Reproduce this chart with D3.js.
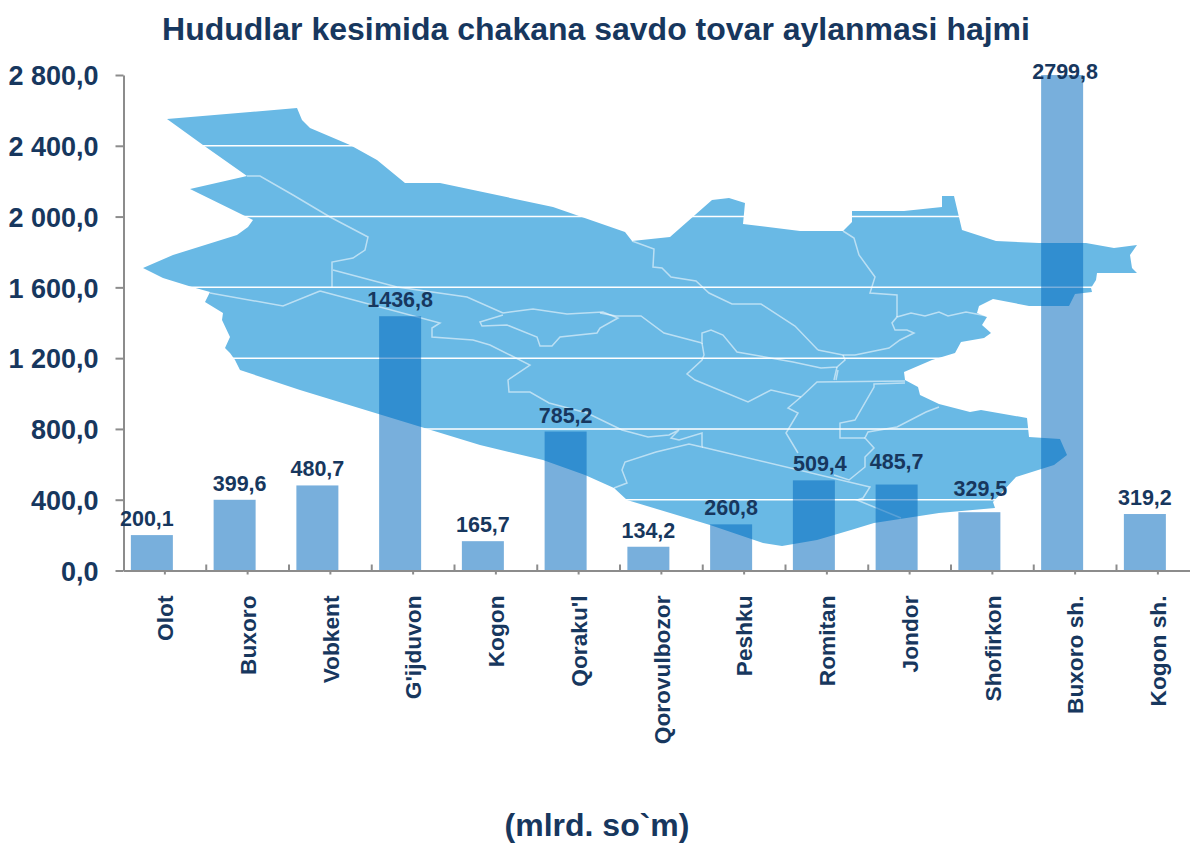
<!DOCTYPE html>
<html>
<head>
<meta charset="utf-8">
<title>Hududlar kesimida chakana savdo tovar aylanmasi hajmi</title>
<script src="https://cdn.jsdelivr.net/npm/d3@7"></script>
<style>
  html, body { margin: 0; padding: 0; background: #fff; }
  svg { display: block; }
  text { font-family: "Liberation Sans", Arial, sans-serif; font-weight: bold; fill: #17375e; }
</style>
</head>
<body>
<svg width="1190" height="843"></svg>
<script>
// Data
const categories = ["Olot", "Buxoro", "Vobkent", "G'ijduvon", "Kogon", "Qoraku'l", "Qorovulbozor",
    "Peshku", "Romitan", "Jondor", "Shofirkon", "Buxoro sh.", "Kogon sh."];
const values = [200.1, 399.6, 480.7, 1436.8, 165.7, 785.2, 134.2, 260.8, 509.4, 485.7, 329.5, 2799.8, 319.2];
const valueLabels = ["200,1", "399,6", "480,7", "1436,8", "165,7", "785,2", "134,2", "260,8", "509,4", "485,7", "329,5", "2799,8", "319,2"];
const yTicks = [0, 400, 800, 1200, 1600, 2000, 2400, 2800];
const yTickLabels = ["0,0", "400,0", "800,0", "1 200,0", "1 600,0", "2 000,0", "2 400,0", "2 800,0"];

// Background map of the region (decoration, not data), in page pixels
const mapOutline = [[167,119],[297,108],[302,120],[310,128],[350,145],[377,160],[405,183],[440,183],[553,207],[625,232],[632,241],[670,237],[712,200],[729,198],[745,203],[743,224],[800,231],[843,231],[852,222],[852,211],[904,211],[942,207],[942,196],[954,196],[958,213],[962,230],[996,241],[1039,243],[1086,243],[1114,248],[1137,245],[1130,255],[1132,268],[1137,273],[1097,273],[1096,280],[1091,288],[1092,292],[1075,294],[1069,306],[1029,306],[993,299],[979,306],[977,313],[987,317],[982,325],[991,333],[984,338],[961,342],[955,353],[932,360],[904,372],[905,380],[918,387],[920,395],[939,404],[970,412],[981,410],[1027,418],[1029,437],[1060,439],[1067,455],[1054,465],[1016,477],[993,502],[995,508],[939,513],[874,523],[851,530],[817,540],[782,546],[763,543],[710,525],[627,500],[614,488],[585,475],[543,460],[480,445],[300,390],[240,370],[235,360],[230,353],[225,348],[230,337],[222,320],[223,313],[205,302],[210,292],[192,287],[163,278],[143,268],[173,255],[237,235],[248,227],[253,220],[245,216],[190,189],[247,176],[203,145]];
const mapBorders = [
    [[247,176],[260,176],[293,195],[330,217],[368,237],[365,250],[353,258],[332,262],[332,287]],
    [[333,270],[397,287],[467,297],[503,313]],
    [[503,313],[533,309],[567,314],[603,312],[618,318],[600,328],[597,333],[560,337],[552,346],[540,346],[537,337],[507,325],[482,326],[480,322],[503,315]],
    [[600,313],[616,316],[641,316],[664,333],[702,343],[702,333],[711,330],[723,335],[737,352],[793,362],[821,368],[837,367],[845,360],[843,355]],
    [[818,350],[843,355],[855,355],[889,348],[900,340],[914,333],[907,330],[895,330],[892,323],[897,317],[911,313],[925,316],[939,312],[948,316],[966,312],[987,316]],
    [[897,317],[897,295],[870,293],[875,277],[859,255],[854,238],[843,231]],
    [[632,241],[654,249],[653,267],[662,268],[671,277],[696,281],[709,293],[732,304],[761,304],[795,326],[818,350]],
    [[702,343],[704,355],[702,360],[687,374],[695,380],[748,402],[771,390],[801,397]],
    [[837,367],[834,380]],
    [[320,291],[283,306],[210,293]],
    [[320,291],[440,323],[432,328],[432,337],[473,340],[490,345],[510,355],[530,365],[508,380],[509,392],[530,392],[549,403],[587,413],[622,430],[648,437],[669,435],[679,430],[671,438],[679,440],[702,433],[702,447],[689,444],[656,452],[625,462],[622,470],[627,483],[614,488]],
    [[702,447],[870,487],[863,498],[857,500],[901,518]],
    [[834,475],[849,480],[865,467],[865,457],[874,448],[865,438],[868,432],[897,427],[926,412],[939,407]],
    [[865,438],[840,438],[840,423],[855,420],[874,387],[874,384],[905,383]],
    [[905,381],[817,382],[801,397],[788,408],[798,413],[786,433],[798,453]],
    [[836,380],[838,370]]
];

const svg = d3.select("svg");
const margin = { top: 75, left: 123.5, bottom: 570.5 };
const step = 82.75;

const x = d3.scaleBand()
    .domain(categories)
    .range([margin.left, margin.left + step * categories.length]);

const y = d3.scaleLinear()
    .domain([0, 2800])
    .range([margin.bottom, margin.top]);

const barWidth = 42;
const barCenter = c => x(c) + step / 2 - 13; // bars sit left of the category centre in the original

// Title and unit
svg.append("text")
    .attr("x", 596).attr("y", 40)
    .attr("text-anchor", "middle")
    .attr("font-size", 32)
    .text("Hududlar kesimida chakana savdo tovar aylanmasi hajmi");

svg.append("text")
    .attr("x", 597).attr("y", 836)
    .attr("text-anchor", "middle")
    .attr("font-size", 32)
    .text("(mlrd. so`m)");

// Map
const line = d3.line();
svg.append("path")
    .attr("d", line(mapOutline) + "Z")
    .attr("fill", "#69b9e5");

svg.append("g").selectAll("path")
    .data(mapBorders)
    .join("path")
    .attr("d", d => line(d))
    .attr("fill", "none")
    .attr("stroke", "#fff")
    .attr("stroke-opacity", 0.55)
    .attr("stroke-width", 1.5);

// Gridlines
svg.append("g").selectAll("line")
    .data(yTicks.slice(1))
    .join("line")
    .attr("x1", margin.left).attr("x2", 1190)
    .attr("y1", d => y(d)).attr("y2", d => y(d))
    .attr("stroke", "#fff")
    .attr("stroke-width", 1.5);

// Bars
svg.append("g").selectAll("rect")
    .data(values)
    .join("rect")
    .attr("x", (d, i) => barCenter(categories[i]) - barWidth / 2)
    .attr("y", d => y(d))
    .attr("width", barWidth)
    .attr("height", d => y(0) - y(d))
    .attr("fill", "#0067bd")
    .attr("fill-opacity", 0.53);

// Y axis
const yAxis = svg.append("g")
    .attr("transform", `translate(${margin.left},0)`)
    .call(d3.axisLeft(y).tickValues(yTicks).tickFormat((d, i) => yTickLabels[i]).tickSize(8).tickSizeOuter(0));
yAxis.selectAll("path, line").attr("stroke", "#8c8c8c").attr("stroke-width", 2);
yAxis.selectAll("text")
    .attr("x", -25)
    .attr("dy", "0.36em")
    .attr("font-size", 27);

// X axis: ticks down at the category centres, ticks up at the boundaries
const xAxis = svg.append("g")
    .attr("transform", `translate(0,${margin.bottom})`)
    .call(d3.axisBottom(x).tickSize(4).tickSizeOuter(0).tickPadding(0));
xAxis.selectAll("path, line").attr("stroke", "#8c8c8c").attr("stroke-width", 2);
xAxis.selectAll(".tick text")
    .attr("transform", "rotate(-90)")
    .attr("text-anchor", "end")
    .attr("x", -25)
    .attr("y", 0)
    .attr("dy", "0.36em")
    .attr("font-size", 22.7);
xAxis.selectAll("line.up")
    .data(categories.slice(1))
    .join("line")
    .attr("class", "up")
    .attr("x1", d => x(d)).attr("x2", d => x(d))
    .attr("y1", 0).attr("y2", -6)
    .attr("stroke", "#8c8c8c")
    .attr("stroke-width", 2);

// Value labels, some were moved by hand in the original
const labelNudge = { "Olot": [-5, 0], "Buxoro": [5, 0], "Romitan": [6, 0], "Jondor": [0, -7], "Shofirkon": [1, -7], "Buxoro sh.": [3, 13], "Kogon sh.": [0, 0] };
svg.append("g").selectAll("text")
    .data(values)
    .join("text")
    .attr("x", (d, i) => barCenter(categories[i]) + (labelNudge[categories[i]] || [0, 0])[0])
    .attr("y", (d, i) => y(d) - 9 + (labelNudge[categories[i]] || [0, 0])[1])
    .attr("text-anchor", "middle")
    .attr("font-size", 21.5)
    .text((d, i) => valueLabels[i]);
</script>
</body>
</html>
